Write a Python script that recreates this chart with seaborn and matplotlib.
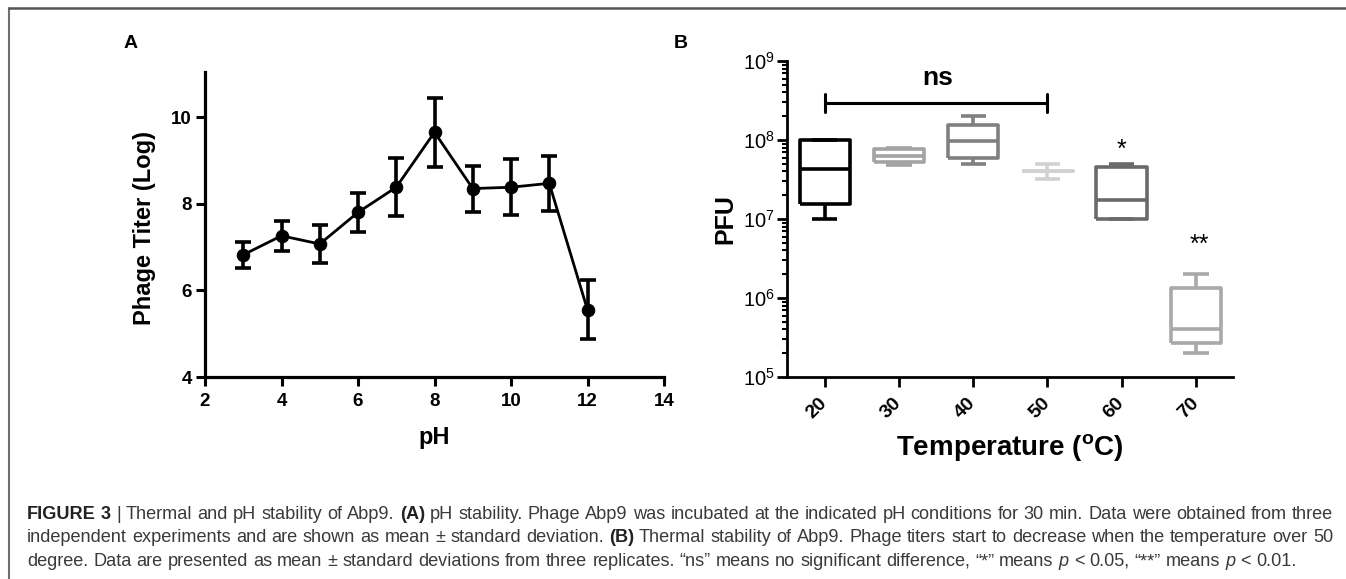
import numpy as np
import pandas as pd
import matplotlib
matplotlib.use("Agg")
import matplotlib.pyplot as plt
import seaborn as sns
from matplotlib.lines import Line2D
from matplotlib.ticker import LogLocator, NullFormatter

# ---- panel A: pH stability (log titer, mean and sd) ----
ph_values = [3, 4, 5, 6, 7, 8, 9, 10, 11, 12]
titer_log = [6.82, 7.26, 7.07, 7.80, 8.38, 9.65, 8.35, 8.38, 8.47, 5.55]
titer_sd = [0.30, 0.35, 0.43, 0.45, 0.67, 0.80, 0.53, 0.65, 0.63, 0.68]

# ---- panel B: thermal stability, readings (min, q1, median, q3, max) ----
temps = ["20", "30", "40", "50", "60", "70"]
pfu_20 = [1.0e7, 1.57e7, 4.3e7, 1.0e8, 1.0e8]
pfu_30 = [4.8e7, 5.2e7, 6.3e7, 7.7e7, 8.0e7]
pfu_40 = [5.0e7, 6.0e7, 9.8e7, 1.53e8, 2.0e8]
pfu_50 = [3.2e7, 4.0e7, 4.0e7, 4.0e7, 5.0e7]
pfu_60 = [1.0e7, 1.0e7, 1.75e7, 4.5e7, 5.0e7]
pfu_70 = [2.0e5, 2.7e5, 4.0e5, 1.35e6, 2.0e6]
box_colors = ["#000000", "#a3a3a3", "#808080", "#d2d2d2", "#6a6a6a", "#a9a9a9"]

# significance marks
ns_span = [0, 3]          # from 20 to 50 degrees
ns_bracket_y = 2.97e8
ns_text_y = 5.0e8
star_marks = ["*", "**"]
star_x = [4.0, 5.04]
star_y = [6.2e7, 3.8e6]

sns.set_style("ticks")
plt.rcParams["font.family"] = ["Liberation Sans", "DejaVu Sans"]
plt.rcParams["mathtext.fontset"] = "custom"
plt.rcParams["mathtext.rm"] = "Liberation Sans"
plt.rcParams["mathtext.bf"] = "Liberation Sans:bold"
for key in ["text.color", "axes.labelcolor", "xtick.color", "ytick.color", "axes.edgecolor"]:
    plt.rcParams[key] = "black"

W, H = 1346, 579
fig = plt.figure(figsize=(W / 100, H / 100), dpi=100)
fig.patch.set_facecolor("white")

# ---------------- panel A ----------------
ax_a = fig.add_axes([205 / W, 1 - 377 / H, (664 - 205) / W, (377 - 72) / H])
df_a = pd.DataFrame({"pH": ph_values, "titer": titer_log, "sd": titer_sd})
sns.lineplot(data=df_a, x="pH", y="titer", color="black", linewidth=2.0,
             marker="o", markersize=9, markeredgecolor="black",
             errorbar=None, ax=ax_a)
ax_a.errorbar(df_a["pH"], df_a["titer"], yerr=df_a["sd"], fmt="none",
              ecolor="black", elinewidth=2.6, capsize=5.5, capthick=2.6)
ax_a.set_xlim(2, 14)
ax_a.set_ylim(4, 11.04)
ax_a.set_xticks(range(2, 15, 2))
ax_a.set_yticks(range(4, 11, 2))
for lab in ax_a.get_xticklabels() + ax_a.get_yticklabels():
    lab.set_fontweight("bold")
ax_a.tick_params(axis="both", labelsize=13.5, width=2.2, length=6.5, color="black")
ax_a.tick_params(axis="x", pad=5)
ax_a.tick_params(axis="y", pad=3)
for s in ["left", "bottom"]:
    ax_a.spines[s].set_linewidth(2.3)
sns.despine(ax=ax_a)
ax_a.set_xlabel("pH", fontsize=17, fontweight="bold")
ax_a.set_ylabel("Phage Titer (Log)", fontsize=17, fontweight="bold")
ax_a.xaxis.label.set_va("center")
ax_a.yaxis.label.set_va("center")
ax_a.xaxis.set_label_coords(0.5, -0.197)
ax_a.yaxis.set_label_coords(-0.131, 0.49)

# ---------------- panel B ----------------
ax_b = fig.add_axes([787 / W, 1 - 377 / H, (1233 - 787) / W, (377 - 61) / H])
groups = [pfu_20, pfu_30, pfu_40, pfu_50, pfu_60, pfu_70]
df_b = pd.DataFrame({
    "temp": np.repeat(temps, [len(g) for g in groups]),
    "pfu": np.concatenate(groups),
})
sns.boxplot(data=df_b, x="temp", y="pfu", hue="temp", palette=box_colors,
            fill=False, width=0.68, linewidth=2.6, whis=(0, 100),
            showfliers=False, log_scale=True, legend=False, ax=ax_b)
for ln in ax_b.lines:
    ln.set_solid_joinstyle("round")
    ln.set_solid_capstyle("butt")
ax_b.set_xlim(-0.51, 5.5)
ax_b.set_ylim(1e5, 1e9)
ax_b.yaxis.set_major_locator(LogLocator(base=10, numticks=10))
ax_b.yaxis.set_minor_locator(LogLocator(base=10, subs=np.arange(2, 10), numticks=20))
ax_b.yaxis.set_minor_formatter(NullFormatter())
ax_b.tick_params(axis="y", which="major", labelsize=14.5, width=2.0, length=7, pad=2)
ax_b.tick_params(axis="y", which="minor", width=1.5, length=3.5)
ax_b.tick_params(axis="x", labelsize=14, width=2.0, length=7, pad=10)
for lab in ax_b.get_xticklabels():
    lab.set_rotation(45)
    lab.set_ha("right")
    lab.set_va("center")
    lab.set_rotation_mode("anchor")
    lab.set_fontweight("bold")
for s in ["left", "bottom"]:
    ax_b.spines[s].set_linewidth(2.0)
sns.despine(ax=ax_b)
ax_b.set_xlabel(r"Temperature ($\mathbf{^{o}}$C)", fontsize=20, fontweight="bold")
ax_b.set_ylabel("PFU", fontsize=18, fontweight="bold")
ax_b.xaxis.label.set_va("center")
ax_b.yaxis.label.set_va("center")
ax_b.xaxis.set_label_coords(0.5, -0.222)
ax_b.yaxis.set_label_coords(-0.139, 0.5)

# significance bracket and stars
ax_b.plot(ns_span, [ns_bracket_y] * 2, color="black", lw=2.2, solid_capstyle="butt")
for xe in ns_span:
    ax_b.plot([xe, xe], [ns_bracket_y / 1.3, ns_bracket_y * 1.3], color="black", lw=2.2)
ax_b.text(np.mean(ns_span) + 0.02, ns_text_y, "ns", ha="center", va="baseline",
          fontsize=19, fontweight="bold")
for m, xs, ys in zip(star_marks, star_x, star_y):
    ax_b.text(xs, ys, m, ha="center", va="baseline", fontsize=18)

# panel letters
fig.text(131 / W, 1 - 43 / H, "A", fontsize=14, fontweight="bold", ha="center", va="center")
fig.text(681 / W, 1 - 43 / H, "B", fontsize=14, fontweight="bold", ha="center", va="center")

# frame lines around the figure
fig.add_artist(Line2D([9 / W, 9 / W], [0, 1 - 8 / H], transform=fig.transFigure,
                      color="#707070", lw=1.5))
fig.add_artist(Line2D([9 / W, 1], [1 - 8 / H, 1 - 8 / H], transform=fig.transFigure,
                      color="#555555", lw=1.8))

# caption, justified word by word
caption_lines = [
    ([("FIGURE 3", "bold", "normal"), ("|", "normal", "normal"),
      ("Thermal and pH stability of Abp9.", "normal", "normal"), ("(A)", "bold", "normal"),
      ("pH stability. Phage Abp9 was incubated at the indicated pH conditions for 30 min. "
       "Data were obtained from three", "normal", "normal")], True),
    ([("independent experiments and are shown as mean \u00b1 standard deviation.", "normal", "normal"),
      ("(B)", "bold", "normal"),
      ("Thermal stability of Abp9. Phage titers start to decrease when the temperature over 50",
       "normal", "normal")], True),
    ([("degree. Data are presented as mean \u00b1 standard deviations from three replicates. "
       "\u201cns\u201d means no significant difference, \u201c*\u201d means", "normal", "normal"),
      ("p", "normal", "italic"), ("< 0.05, \u201c**\u201d means", "normal", "normal"),
      ("p", "normal", "italic"), ("< 0.01.", "normal", "normal")], False),
]
caption_base = [519, 542.5, 566]
cap_size = 13.1
renderer = fig.canvas.get_renderer()
probe = fig.text(0, 0, "n n", fontsize=cap_size)
w_sp = probe.get_window_extent(renderer).width
probe.set_text("nn")
w_sp -= probe.get_window_extent(renderer).width
probe.remove()
x_start, x_end = 27, 1333
for (runs, justify), yb in zip(caption_lines, caption_base):
    items = []
    for text, weight, style in runs:
        for word in text.split():
            col = "#222222" if weight == "bold" else "#3a3a3a"
            t = fig.text(0, 1 - yb / H, word, fontsize=cap_size, fontweight=weight,
                         fontstyle=style, color=col, ha="left", va="baseline")
            items.append((t, t.get_window_extent(renderer).width))
    total = sum(w for _, w in items)
    gap = (x_end - x_start - total) / (len(items) - 1) if justify else w_sp
    x = x_start
    for t, w in items:
        t.set_x(x / W)
        x += w + gap

fig.savefig("out.png", dpi=100)
